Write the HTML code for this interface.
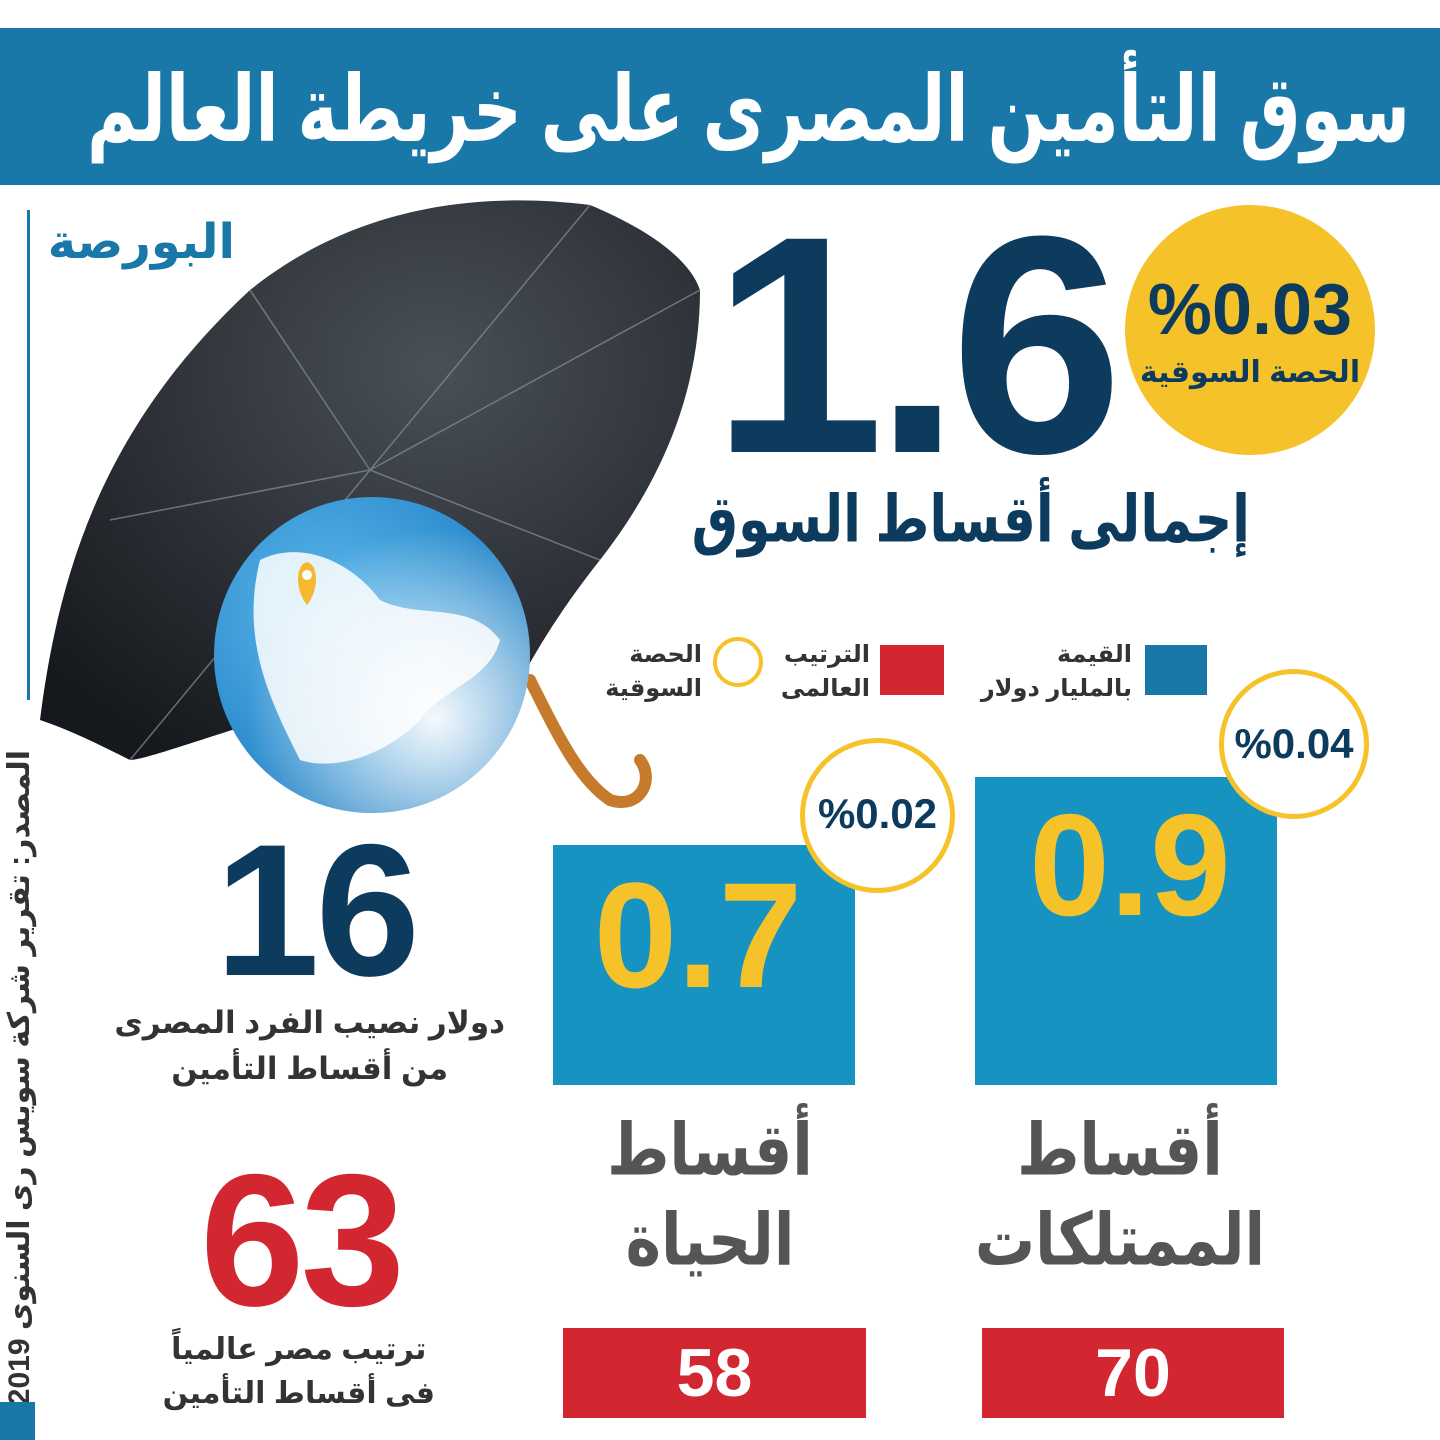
<!DOCTYPE html>
<html><head><meta charset="utf-8">
<style>
html,body{margin:0;padding:0}
body{width:1440px;height:1440px;position:relative;overflow:hidden;background:#fff;font-family:"Liberation Sans","Noto Sans CJK SC","DejaVu Sans",sans-serif;}
.a{position:absolute;white-space:nowrap}
.r{direction:rtl}
</style></head><body>
<div class="a" style="left:0;top:28px;width:1440px;height:157px;background:#1a78a8"></div>
<div class="a r" style="right:30px;top:40px;color:#fff;font-size:68px;font-weight:bold;line-height:140px;transform:scaleY(1.35);transform-origin:right center">سوق التأمين المصرى على خريطة العالم</div>

<div class="a" style="left:27px;top:210px;width:3px;height:490px;background:#1a78a8"></div>
<div class="a r" style="left:55px;top:210px;width:180px;height:65px;color:#1a78a8;font-size:48px;font-weight:bold;text-align:center;line-height:65px">البورصة</div>

<div class="a r" style="left:-300px;top:1050px;width:640px;transform:rotate(-90deg);text-align:center;font-size:30px;font-weight:bold;color:#333;line-height:40px">المصدر: تقرير شركة سويس رى السنوى 2019</div>
<div class="a" style="left:0;top:1402px;width:35px;height:38px;background:#1a78a8"></div>

<svg class="a" style="left:0;top:185px" width="720" height="650" viewBox="0 185 720 650">
<defs>
<radialGradient id="u" cx="0.6" cy="0.3" r="0.8"><stop offset="0" stop-color="#4a5058"/><stop offset="1" stop-color="#15181c"/></radialGradient>
<radialGradient id="g" cx="0.35" cy="0.35" r="0.7"><stop offset="0" stop-color="#5ab6ea"/><stop offset="1" stop-color="#1f7fc4"/></radialGradient>
<radialGradient id="s" cx="0.7" cy="0.7" r="0.6"><stop offset="0" stop-color="#fff" stop-opacity="0.95"/><stop offset="1" stop-color="#fff" stop-opacity="0"/></radialGradient>
</defs>
<path d="M40,720 C60,560 110,420 250,290 C350,210 470,190 590,205 C650,230 690,260 700,290 C700,380 670,470 600,560 C560,610 530,660 510,700 C450,690 400,690 340,700 C250,720 150,760 130,760 C100,745 70,730 40,720 Z" fill="url(#u)"/>
<g stroke="#8a9099" stroke-width="1.5" fill="none" opacity="0.7">
<path d="M370,470 L590,205"/><path d="M370,470 L700,290"/><path d="M370,470 L250,290"/><path d="M370,470 L110,520"/><path d="M370,470 L130,760"/><path d="M370,470 L600,560"/></g>
<path d="M530,680 C560,740 580,780 610,800 C640,810 655,780 640,760" stroke="#c57a2c" stroke-width="12" fill="none" stroke-linecap="round"/>
<circle cx="372" cy="655" r="158" fill="url(#g)"/>
<path d="M260,560 C300,540 350,560 380,600 C420,620 470,600 500,640 C490,680 440,690 420,720 C380,760 330,770 300,760 C270,700 240,640 260,560Z" fill="#fff" opacity="0.85"/>
<circle cx="372" cy="655" r="158" fill="url(#s)"/>
<path d="M307,605 C295,590 295,565 307,562 C319,565 319,590 307,605Z" fill="#f5b82e"/>
<circle cx="307" cy="575" r="5" fill="#fff"/>
</svg>

<div class="a" style="left:712px;top:195px;color:#0d3b5e;font-size:310px;font-weight:bold;line-height:300px;letter-spacing:-10px">1.6</div>
<div class="a" style="left:1125px;top:205px;width:250px;height:250px;border-radius:50%;background:#f6c22a"></div>
<div class="a" style="left:1125px;top:270px;width:250px;text-align:center;color:#0d3b5e;font-size:72px;font-weight:bold;line-height:80px">%0.03</div>
<div class="a r" style="left:1125px;top:355px;width:250px;text-align:center;color:#0d3b5e;font-size:30px;font-weight:bold">الحصة السوقية</div>
<div class="a r" style="right:190px;top:480px;color:#0d3b5e;font-size:52px;font-weight:bold;line-height:80px;transform:scaleY(1.25);transform-origin:right center">إجمالى أقساط السوق</div>

<div class="a" style="left:1145px;top:645px;width:62px;height:50px;background:#1a78a8"></div>
<div class="a r" style="right:308px;top:638px;color:#333;font-size:24px;font-weight:bold;line-height:34px;text-align:right">القيمة<br>بالمليار دولار</div>
<div class="a" style="left:880px;top:645px;width:64px;height:50px;background:#d22630"></div>
<div class="a r" style="right:570px;top:638px;color:#333;font-size:24px;font-weight:bold;line-height:34px;text-align:right">الترتيب<br>العالمى</div>
<div class="a" style="left:713px;top:637px;width:42px;height:42px;border-radius:50%;border:4px solid #f6c22a"></div>
<div class="a r" style="right:738px;top:638px;color:#333;font-size:24px;font-weight:bold;line-height:34px;text-align:right">الحصة<br>السوقية</div>

<div class="a" style="left:975px;top:777px;width:302px;height:308px;background:#1693c0"></div>
<div class="a" style="left:990px;top:790px;width:280px;text-align:center;color:#f6c22a;font-size:145px;font-weight:bold;line-height:150px">0.9</div>
<div class="a" style="left:1219px;top:669px;width:150px;height:150px;border-radius:50%;background:#fff;border:5px solid #f6c22a;box-sizing:border-box"></div>
<div class="a" style="left:1219px;top:720px;width:150px;text-align:center;color:#0d3b5e;font-size:42px;font-weight:bold">%0.04</div>

<div class="a" style="left:553px;top:845px;width:302px;height:240px;background:#1693c0"></div>
<div class="a" style="left:553px;top:860px;width:290px;text-align:center;color:#f6c22a;font-size:150px;font-weight:bold;line-height:150px">0.7</div>
<div class="a" style="left:800px;top:738px;width:155px;height:155px;border-radius:50%;background:#fff;border:5px solid #f6c22a;box-sizing:border-box"></div>
<div class="a" style="left:800px;top:790px;width:155px;text-align:center;color:#0d3b5e;font-size:42px;font-weight:bold">%0.02</div>

<div class="a r" style="left:960px;top:1120px;width:320px;text-align:center;color:#555;font-size:60px;font-weight:bold;line-height:75px;transform:scaleY(1.2)">أقساط<br>الممتلكات</div>
<div class="a r" style="left:560px;top:1120px;width:300px;text-align:center;color:#555;font-size:60px;font-weight:bold;line-height:75px;transform:scaleY(1.2)">أقساط<br>الحياة</div>

<div class="a" style="left:982px;top:1328px;width:302px;height:90px;background:#d22630;color:#fff;font-size:68px;font-weight:bold;text-align:center;line-height:90px">70</div>
<div class="a" style="left:563px;top:1328px;width:303px;height:90px;background:#d22630;color:#fff;font-size:68px;font-weight:bold;text-align:center;line-height:90px">58</div>

<div class="a" style="left:215px;top:815px;color:#0d3b5e;font-size:188px;font-weight:bold;line-height:190px;letter-spacing:-4px">16</div>
<div class="a r" style="right:935px;top:1000px;color:#333;font-size:31px;font-weight:bold;line-height:46px;text-align:center">دولار نصيب الفرد المصرى<br>من أقساط التأمين</div>
<div class="a" style="left:200px;top:1145px;color:#d22630;font-size:188px;font-weight:bold;line-height:190px;letter-spacing:-4px">63</div>
<div class="a r" style="right:1005px;top:1328px;color:#333;font-size:30px;font-weight:bold;line-height:44px;text-align:center">ترتيب مصر عالمياً<br>فى أقساط التأمين</div>
</body></html>
